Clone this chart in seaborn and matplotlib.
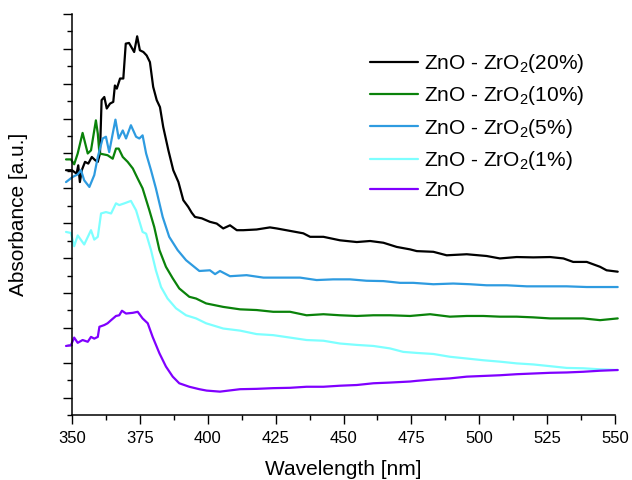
import matplotlib
matplotlib.use("Agg")
import matplotlib.pyplot as plt
from matplotlib.ticker import MultipleLocator, NullFormatter
import seaborn as sns
import pandas as pd

# Datos (longitud de onda en nm, absorbancia en u.a.)
zr20_nm = [347.8, 350, 351.7, 352.3, 352.9, 353.6, 354.8, 356, 357.3, 358.5, 359.5, 360.3, 360.9, 361.9,
           362.8, 364, 365.2, 365.8, 366.5, 367.7, 368.9, 369.8, 371, 372.9, 374, 375, 376.3, 377.5,
           378.7, 379.9, 381.2, 382.4, 383.6, 385.5, 387.3, 389.2, 391, 392.8, 394.1, 395.3, 397.8,
           400.8, 403.3, 405.7, 408.2, 410.7, 413.1, 418, 422.9, 425.4, 430.3, 435.2, 437.7, 442.6,
           448.7, 454.9, 459.8, 464.7, 469.6, 474.5, 477, 483.1, 488, 495.4, 502.7, 507.6, 513.8,
           519.9, 526.1, 531, 534.6, 539.6, 544.5, 546.9, 551]
zr20_abs = [.752, .752, .742, .766, .718, .752, .776, .771, .790, .781, .776, .800, .953, .962,
            .929, .943, .948, .995, .986, 1.015, 1.015, 1.115, 1.117, 1.091, 1.136, 1.096, 1.091, 1.081,
            1.062, .991, .953, .933, .876, .809, .752, .718, .666, .647, .630, .618, .614,
            .604, .599, .585, .594, .580, .580, .582, .588, .585, .578, .571, .561, .561,
            .551, .546, .549, .544, .532, .525, .520, .518, .508, .511, .506, .499, .503,
            .502, .503, .499, .489, .489, .475, .465, .461]

zr10_nm = [347.8, 349.6, 350.8, 352.1, 353.9, 355.8, 357, 358.8, 359.5, 360.1, 361.3, 363.1, 365,
           366.2, 367.2, 368.7, 370.5, 372.4, 374.2, 376, 378.5, 380.3, 382.2, 384.6, 387.1, 389.5,
           393.2, 395.7, 399.4, 405.7, 411.9, 418, 424.1, 430.3, 436.4, 442.6, 448.7, 454.9, 461,
           467.1, 474.5, 481.9, 489.2, 495.4, 501.5, 507.6, 513.8, 519.9, 526.1, 532.2, 538.3, 544.5, 551]
zr10_abs = [.783, .783, .769, .800, .859, .800, .809, .895, .857, .800, .798, .795, .785,
            .814, .814, .790, .776, .757, .728, .700, .637, .589, .523, .475, .442, .413,
            .389, .384, .370, .360, .353, .351, .346, .346, .336, .339, .336, .334, .336,
            .336, .334, .339, .332, .334, .334, .332, .332, .330, .327, .327, .327, .322, .327]

zr5_nm = [347.8, 350.3, 352.1, 353.3, 354.5, 356.4, 358.2, 359.5, 361.3, 362.5, 363.7, 365, 366,
          367.2, 368.7, 369.9, 371.7, 373.6, 374.8, 376, 377.3, 379.1, 380.9, 383.4, 385.8, 388.9,
          392, 395, 396.9, 400.8, 402.7, 404.5, 408.2, 414.3, 420.5, 426.6, 434, 440.1, 446.2,
          452.4, 458.5, 464.7, 470.8, 475.7, 483.1, 490.4, 496.6, 502.7, 510.1, 517.5, 524.8,
          532.2, 539.6, 546.9, 551]
zr5_abs = [.718, .733, .740, .752, .723, .704, .738, .790, .843, .848, .804, .857, .897,
           .843, .866, .843, .881, .848, .843, .852, .800, .752, .700, .618, .561, .523,
           .494, .475, .463, .465, .454, .463, .448, .451, .444, .444, .444, .437, .439,
           .439, .435, .434, .429, .429, .425, .427, .425, .422, .422, .419, .419,
           .419, .417, .417, .417]

zr1_nm = [347.8, 349.6, 350.8, 352.1, 354.5, 357, 358.2, 359.5, 360.7, 362.5, 364.4, 366.2, 367.4,
          369.3, 371.7, 373.6, 376, 377.3, 379.1, 380.9, 382.8, 385.2, 388.3, 392, 395.7, 399.4,
          405.7, 411.9, 418, 424.1, 430.3, 436.4, 442.6, 448.7, 454.9, 461, 467.1, 472, 477,
          483.1, 489.2, 495.4, 501.5, 507.6, 513.8, 519.9, 526.1, 532.2, 538.3, 544.5, 551]
zr1_abs = [.575, .572, .534, .565, .539, .580, .553, .561, .628, .632, .628, .657, .652,
           .657, .664, .637, .575, .570, .523, .465, .417, .384, .356, .336, .327, .313,
           .298, .292, .282, .279, .272, .265, .263, .255, .251, .248, .241, .231, .228,
           .225, .217, .212, .207, .203, .198, .195, .190, .185, .184, .181, .179]

zno_nm = [347.8, 349.6, 350.8, 352.1, 353.9, 355.8, 357, 358.2, 359.5, 360.1, 361.9, 363.1, 364.4,
          366.2, 367.4, 368.4, 369.9, 372.4, 374.2, 376, 377.9, 379.7, 382.2, 384.6, 387.1, 389.5,
          393.2, 396.9, 399.6, 404.5, 411.9, 418, 424.1, 430.3, 436.4, 442.6, 448.7, 454.9, 461,
          467.1, 474.5, 477, 483.1, 489.2, 495.4, 501.5, 507.6, 513.8, 519.9, 526.1, 532.2,
          538.3, 544.5, 551]
zno_abs = [.248, .250, .272, .257, .265, .260, .274, .269, .274, .303, .308, .313, .322,
           .334, .336, .349, .341, .343, .346, .327, .313, .274, .227, .189, .160, .141,
           .131, .124, .120, .117, .124, .125, .127, .128, .131, .131, .134, .136, .141,
           .143, .146, .148, .152, .155, .160, .162, .164, .167, .169, .171, .172,
           .174, .177, .179]

etiquetas = ['ZnO - ZrO$_2$(20%)', 'ZnO - ZrO$_2$(10%)', 'ZnO - ZrO$_2$(5%)',
             'ZnO - ZrO$_2$(1%)', 'ZnO']
colores = ['#000000', '#0a820a', '#2e9be0', '#7dffff', '#8000ff']

series = [(zr20_nm, zr20_abs), (zr10_nm, zr10_abs), (zr5_nm, zr5_abs),
          (zr1_nm, zr1_abs), (zno_nm, zno_abs)]
df = pd.concat([pd.DataFrame({'nm': x, 'abs': y, 'muestra': lab})
                for (x, y), lab in zip(series, etiquetas)], ignore_index=True)

sns.set_style('ticks')
plt.rcParams['font.family'] = ['Liberation Sans', 'DejaVu Sans']
plt.rcParams['mathtext.default'] = 'regular'
plt.rcParams['text.color'] = 'black'
plt.rcParams['axes.labelcolor'] = 'black'
plt.rcParams['xtick.labelcolor'] = 'black'

fig = plt.figure(figsize=(6.32, 4.8), dpi=100)
ax = fig.add_axes([72/632, 65/480, 543/632, 401/480])

sns.lineplot(data=df, x='nm', y='abs', hue='muestra', hue_order=etiquetas, palette=colores,
             estimator=None, sort=False, lw=1.6, clip_on=False, ax=ax)

ax.set_xlim(350, 550)
ax.set_ylim(0.05, 1.2)
ax.xaxis.set_major_locator(MultipleLocator(25))
ax.xaxis.set_minor_locator(MultipleLocator(12.5))
ax.yaxis.set_major_locator(MultipleLocator(0.1))
ax.yaxis.set_minor_locator(MultipleLocator(0.05))
ax.yaxis.set_major_formatter(NullFormatter())
ax.tick_params(axis='both', which='major', length=6.5, width=1, direction='out', labelsize=12,
               color='black', labelcolor='black', pad=5)
ax.tick_params(axis='both', which='minor', length=3.5, width=1, direction='out', color='black')
for s in ['left', 'bottom']:
    ax.spines[s].set_linewidth(1.1)
    ax.spines[s].set_color('black')
sns.despine(ax=ax)

ax.set_xlabel('Wavelength [nm]', fontsize=15, labelpad=10)
ax.set_ylabel('Absorbance [a.u.]', fontsize=15, labelpad=20)

ax.legend(loc='upper left', bbox_to_anchor=(370/632, 1 - 52/480), bbox_transform=fig.transFigure,
          frameon=False, fontsize=15, handlelength=2.3, handletextpad=0.3, labelspacing=0.45,
          borderpad=0, borderaxespad=0)

fig.savefig('out.png', dpi=100)
